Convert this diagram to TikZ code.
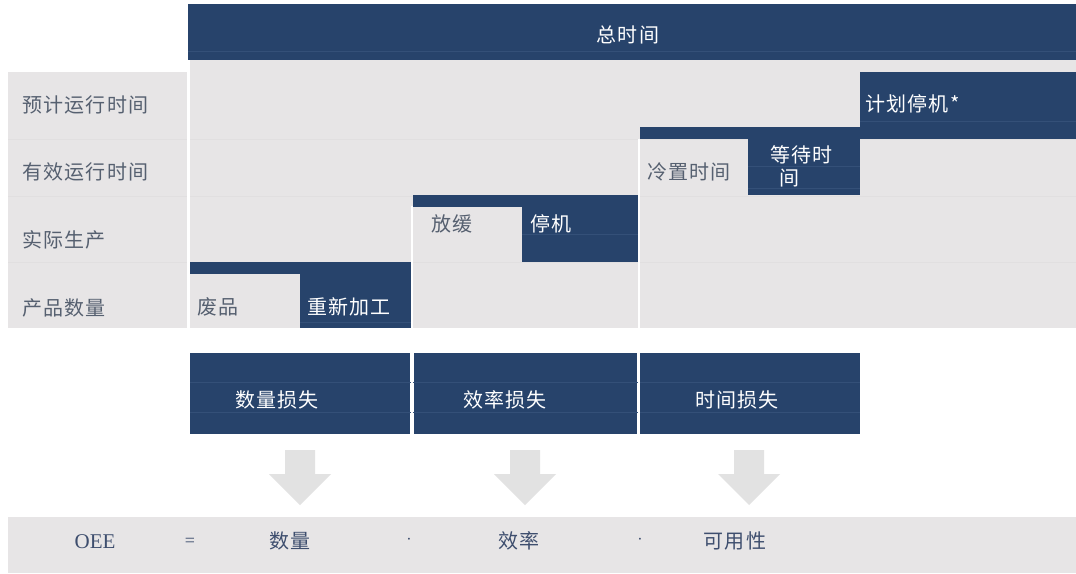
\documentclass[tikz,border=0pt]{standalone}
\usepackage{fontspec}
\setmainfont{Liberation Serif}
\newfontfamily\cjk[LetterSpace=6]{Noto Sans CJK SC}
\definecolor{navy}{RGB}{39,67,107}
\definecolor{navyline}{RGB}{52,80,120}
\definecolor{bggray}{RGB}{231,229,230}
\definecolor{bgline}{RGB}{225,223,224}
\definecolor{arrowgray}{RGB}{226,226,226}
\definecolor{labelc}{RGB}{86,96,112}
\definecolor{oeec}{RGB}{62,78,110}
\begin{document}
\begin{tikzpicture}[x=1pt,y=-1pt,
  blk/.style={fill=navy, draw=none, inner sep=0pt, outer sep=0pt, anchor=north west},
  lbl/.style={text=labelc, font=\cjk\fontsize{20}{22}\selectfont, inner sep=0pt, anchor=west},
  wlbl/.style={text=white, font=\cjk\fontsize{20}{22}\selectfont, inner sep=0pt},
  oee/.style={text=oeec, font=\cjk\fontsize{20}{22}\selectfont, inner sep=0pt},
  barrow/.style={fill=arrowgray, draw=none}]
\useasboundingbox (0,0) rectangle (1076,573);
\fill[white] (0,0) rectangle (1076,573);
% gray panels
\fill[bggray] (8,72) rectangle (187,328);
\fill[bggray] (190,60) rectangle (1076,328);
\foreach \yy in {139,196,262} \draw[bgline, line width=0.8pt] (8,\yy) -- (1076,\yy);
% top bar
\node[blk, minimum width=888pt, minimum height=56pt] (total) at (188,4) {};
\draw[navyline, line width=0.8pt] (188,51) -- (1076,51);
\node[wlbl] (totalt) at (628,35) {总时间};
% row labels
\node[lbl] (r1) at (22,105) {预计运行时间};
\node[lbl] (r2) at (22,172) {有效运行时间};
\node[lbl] (r3) at (22,240) {实际生产};
\node[lbl] (r4) at (22,308) {产品数量};
% planned downtime
\node[blk, minimum width=216pt, minimum height=67pt] (plan) at (860,72) {};
\draw[navyline, line width=0.8pt] (860,121) -- (1076,121);
\node[wlbl, anchor=west] (plant) at (865,104) {计划停机*};
% step 2
\node[blk, minimum width=221pt, minimum height=12pt] (s2) at (640,127) {};
\node[blk, minimum width=112pt, minimum height=57pt] (wait) at (748,138) {};
\draw[navyline, line width=0.8pt] (748,166) -- (860,166);
\draw[navyline, line width=0.8pt] (748,188) -- (860,188);
\node[wlbl, anchor=west] (waitt1) at (770,155) {等待时};
\node[wlbl, anchor=west] (waitt2) at (779,178) {间};
\node[lbl] (cold) at (647,172) {冷置时间};
% step 3
\node[blk, minimum width=226pt, minimum height=12pt] (s3) at (413,195) {};
\node[blk, minimum width=117pt, minimum height=57pt] (stop) at (522,205) {};
\draw[navyline, line width=0.8pt] (522,234) -- (639,234);
\node[wlbl, anchor=west] (stopt) at (530,224) {停机};
\node[lbl] (slow) at (431,224) {放缓};
% step 4
\node[blk, minimum width=222pt, minimum height=12pt] (s4) at (190,262) {};
\node[blk, minimum width=112pt, minimum height=56pt] (rework) at (300,272) {};
\draw[navyline, line width=0.8pt] (300,322) -- (411,322);
\node[wlbl, anchor=west] (reworkt) at (307,307) {重新加工};
\node[lbl] (scrap) at (197,307) {废品};
% white separators
\draw[white, line width=2pt] (412,206) -- (412,328);
\draw[white, line width=2pt] (639,139) -- (639,328);
\draw[white, line width=2.5pt] (188.5,60) -- (188.5,328);
% loss boxes
\node[blk, minimum width=220pt, minimum height=81pt] (l1) at (190,353) {};
\node[blk, minimum width=223pt, minimum height=81pt] (l2) at (414,353) {};
\node[blk, minimum width=220pt, minimum height=81pt] (l3) at (640,353) {};
\foreach \yy in {382,412} \draw[navyline, line width=0.8pt] (190,\yy) -- (860,\yy);
\draw[white, line width=2pt] (412,353) -- (412,434);
\draw[white, line width=2pt] (639,353) -- (639,434);
\node[wlbl] (l1t) at (277,400) {数量损失};
\node[wlbl] (l2t) at (505,400) {效率损失};
\node[wlbl] (l3t) at (737,400) {时间损失};
% block arrows
\foreach \cx in {300,525,749}
  \fill[barrow] (\cx-15,450) -- (\cx+15,450) -- (\cx+15,474) -- (\cx+31,474)
     -- (\cx,505) -- (\cx-31,474) -- (\cx-15,474) -- cycle;
% bottom bar
\node[fill=bggray, draw=none, inner sep=0pt, anchor=north west, minimum width=1068pt, minimum height=56pt] (bottom) at (8,517) {};
\node[text=oeec, font=\fontsize{21}{22}\selectfont, inner sep=0pt] (oeet) at (95,542) {OEE};
\node[text=oeec, font=\fontsize{18}{22}\selectfont, inner sep=0pt] (eq) at (190,542) {=};
\node[oee] (q) at (290,541) {数量};
\node[text=oeec, font=\fontsize{16}{22}\selectfont, inner sep=0pt] (d1) at (409,541) {·};
\node[oee] (e) at (519,541) {效率};
\node[text=oeec, font=\fontsize{16}{22}\selectfont, inner sep=0pt] (d2) at (640,541) {·};
\node[oee] (a) at (735,541) {可用性};
\end{tikzpicture}
\end{document}
